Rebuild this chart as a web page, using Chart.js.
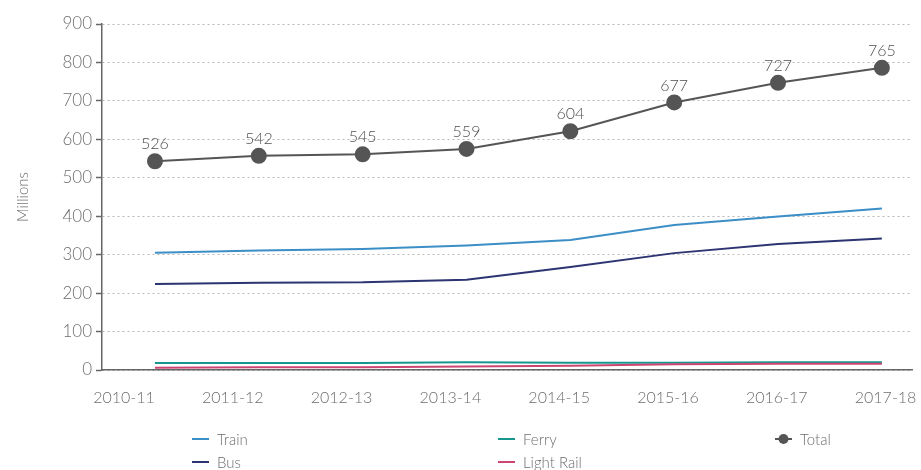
<!DOCTYPE html>
<html>
<head>
<meta charset="utf-8">
<script src="https://cdn.jsdelivr.net/npm/chart.js@4.4.1/dist/chart.umd.min.js"></script>
<style>
    html, body { margin: 0; padding: 0; background: #ffffff; }
    #wrap { width: 921px; height: 470px; position: relative; }
</style>
</head>
<body>
<div id="wrap"><canvas id="chart"></canvas></div>
<script>
const years = ['2010-11', '2011-12', '2012-13', '2013-14', '2014-15', '2015-16', '2016-17', '2017-18'];

const train     = [305, 311, 315, 324, 338, 377, 399, 420];
const bus       = [224, 227, 228, 235, 268, 304, 328, 342];
const ferry     = [18, 18, 18, 20, 19, 19, 20, 20];
const lightRail = [6, 7, 7, 9, 11, 15, 16, 16];

// total as plotted, and the numbers printed above each dot
const total       = [543, 557, 561, 575, 621, 696, 747, 786];
const totalLabels = ['526', '542', '545', '559', '604', '677', '727', '765'];

const FONT = 'Lato, "Open Sans", sans-serif';
const GREY = '#6e6e6e';

function points(values) {
    return values.map((v, i) => ({ x: i, y: v }));
}

function lineSet(label, values, color) {
    return {
        label: label,
        data: points(values),
        borderColor: color,
        backgroundColor: color,
        borderWidth: 2,
        pointRadius: 0,
        tension: 0,
        xAxisID: 'x'
    };
}

const legendItems = [
    { label: 'Train',      x: 192, y: 439, marker: false },
    { label: 'Bus',        x: 192, y: 462, marker: false },
    { label: 'Ferry',      x: 498, y: 439, marker: false },
    { label: 'Light Rail', x: 498, y: 462, marker: false },
    { label: 'Total',      x: 775, y: 439, marker: true }
];

const labelPlugin = {
    id: 'totalLabels',
    afterDatasetsDraw(chart) {
        const ctx = chart.ctx;
        const meta = chart.getDatasetMeta(chart.data.datasets.length - 1);
        ctx.save();
        ctx.font = '300 16px ' + FONT;
        ctx.fillStyle = '#505050';
        ctx.textAlign = 'center';
        ctx.textBaseline = 'middle';
        meta.data.forEach((pt, i) => {
            ctx.fillText(totalLabels[i], pt.x, pt.y - 17);
        });
        ctx.restore();
    }
};

const legendPlugin = {
    id: 'gridLegend',
    afterDraw(chart) {
        const ctx = chart.ctx;
        ctx.save();
        ctx.font = '300 15px ' + FONT;
        ctx.textBaseline = 'middle';
        legendItems.forEach(item => {
            const ds = chart.data.datasets.find(d => d.label === item.label);
            ctx.strokeStyle = ds.borderColor;
            ctx.lineWidth = 2;
            ctx.beginPath();
            ctx.moveTo(item.x, item.y);
            ctx.lineTo(item.x + 17, item.y);
            ctx.stroke();
            if (item.marker) {
                ctx.fillStyle = ds.borderColor;
                ctx.beginPath();
                ctx.arc(item.x + 8.5, item.y, 5, 0, Math.PI * 2);
                ctx.fill();
            }
            ctx.fillStyle = GREY;
            ctx.fillText(item.label, item.x + 25, item.y + 1);
        });
        ctx.restore();
    }
};

new Chart(document.getElementById('chart'), {
    type: 'line',
    data: {
        datasets: [
            lineSet('Light Rail', lightRail, '#cc4470'),
            lineSet('Ferry', ferry, '#17968e'),
            lineSet('Bus', bus, '#2c3472'),
            lineSet('Train', train, '#3b8ec6'),
            {
                label: 'Total',
                data: points(total),
                borderColor: '#555555',
                backgroundColor: '#555555',
                borderWidth: 2,
                pointRadius: 7,
                pointHoverRadius: 7,
                tension: 0,
                xAxisID: 'x'
            }
        ]
    },
    options: {
        responsive: true,
        maintainAspectRatio: false,
        animation: false,
        layout: {
            padding: { left: 0, right: 9, top: 24, bottom: 60 }
        },
        plugins: {
            legend: { display: false },
            tooltip: { enabled: false }
        },
        scales: {
            x: {
                type: 'linear',
                display: false,
                min: -0.51,
                max: 7.29
            },
            xl: {
                type: 'linear',
                position: 'bottom',
                min: -0.202,
                max: 7.243,
                afterFit(scale) {
                    scale.height = 40;
                    scale.paddingLeft = 0;
                    scale.paddingRight = 0;
                },
                border: { display: true, color: '#666666', width: 1.5 },
                grid: { display: false, drawOnChartArea: false },
                ticks: {
                    includeBounds: false,
                    stepSize: 1,
                    autoSkip: false,
                    maxRotation: 0,
                    padding: 10,
                    color: GREY,
                    font: { family: FONT, size: 16, weight: 300 },
                    callback: v => years[v] ?? ''
                }
            },
            y: {
                min: 0,
                max: 900,
                afterFit(scale) {
                    scale.width = 102;
                    scale.paddingTop = 0;
                    scale.paddingBottom = 0;
                },
                border: { display: true, color: '#666666', width: 1.5, dash: [2, 3] },
                grid: {
                    color: '#b8b8b8',
                    tickColor: '#666666',
                    tickLength: 6,
                    tickBorderDash: [],
                    tickWidth: 1.5
                },
                ticks: {
                    stepSize: 100,
                    padding: 4,
                    color: GREY,
                    font: { family: FONT, size: 17, weight: 300 }
                },
                title: {
                    display: true,
                    text: 'Millions',
                    color: GREY,
                    padding: { top: 14, bottom: 0 },
                    font: { family: FONT, size: 15, weight: 300 }
                }
            }
        }
    },
    plugins: [labelPlugin, legendPlugin]
});
</script>
</body>
</html>
